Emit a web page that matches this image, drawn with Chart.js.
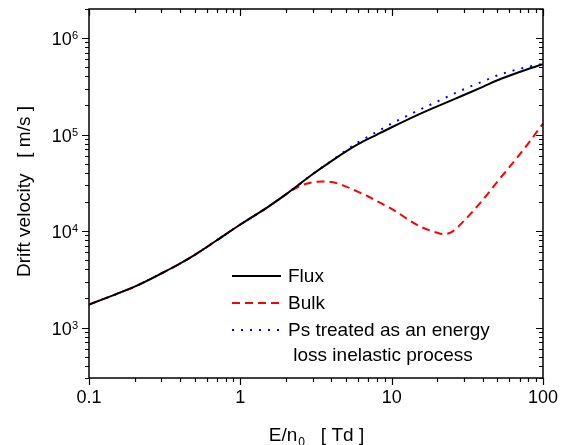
<!DOCTYPE html>
<html>
<head>
<meta charset="utf-8">
<script src="https://cdn.jsdelivr.net/npm/chart.js@4/dist/chart.umd.min.js"></script>
<style>
  html, body { margin: 0; padding: 0; background: #fff; }
  #wrap { width: 569px; height: 445px; }
</style>
</head>
<body>
<div id="wrap"><canvas id="drift"></canvas></div>
<script>
// E/n0 [Td]
var fieldFlux = [0.1, 0.15, 0.2, 0.3, 0.4, 0.5, 0.7, 1, 1.5, 2, 2.5, 3, 4, 5, 6, 8, 10, 15, 20, 30, 40, 50, 70, 100];
var flux = [1730, 2210, 2650, 3630, 4610, 5670, 8030, 11700, 17500, 24000, 31200, 38800, 53000, 67000, 79600, 100000, 119000, 161000, 196000, 257000, 312000, 365000, 445000, 537000];

var fieldBulk = [0.1, 0.15, 0.2, 0.3, 0.4, 0.5, 0.7, 1, 1.5, 2, 2.5, 3, 3.5, 4, 5, 6, 7, 8, 10, 15, 20, 22, 25, 30, 40, 50, 60, 70, 80, 90, 100];
var bulk = [1730, 2210, 2650, 3630, 4610, 5670, 8030, 11700, 17500, 24000, 29500, 32000, 32700, 32300, 28900, 25500, 22800, 20400, 17000, 11400, 9600, 9300, 9800, 12700, 21000, 32500, 46000, 62000, 81000, 104000, 130000];

var fieldPs = [0.1, 0.15, 0.2, 0.3, 0.4, 0.5, 0.7, 1, 1.5, 2, 2.5, 3, 4, 5, 6, 8, 10, 15, 20, 30, 40, 50, 70, 100];
var ps = [1730, 2210, 2650, 3630, 4610, 5670, 8030, 11700, 17500, 24000, 31200, 38800, 53500, 68500, 83000, 107000, 130000, 178000, 220000, 295000, 355000, 410000, 480000, 540000];

var legendLabels = ['Flux', 'Bulk', 'Ps treated as an energy', ' loss inelastic process'];
var xTickValues = [0.1, 1, 10, 100];
var xTickLabels = ['0.1', '1', '10', '100'];
var yTickExps = [3, 4, 5, 6];

var FONT = '"Liberation Sans", Arial, sans-serif';

function pts(xs, ys) {
    var out = [];
    for (var i = 0; i < xs.length; i++) {
        out.push({ x: xs[i], y: ys[i] });
    }
    return out;
}

// minor tick values between min and max for a log axis
function logMinors(min, max) {
    var out = [];
    var d = Math.pow(10, Math.floor(Math.log10(min)));
    for (; d < max * 1.0001; d *= 10) {
        for (var k = 1; k < 10; k++) {
            var v = d * k;
            if (v >= min * 0.9999 && v <= max * 1.0001) out.push({ v: v, major: k === 1 });
        }
    }
    return out;
}

var framePlugin = {
    id: 'frame',
    afterDraw: function(chart) {
        var ctx = chart.ctx;
        var a = chart.chartArea;
        var xs = chart.scales.x, ys = chart.scales.y;
        ctx.save();
        ctx.strokeStyle = '#000';
        ctx.fillStyle = '#000';
        ctx.lineWidth = 1.5;
        ctx.strokeRect(a.left, a.top, a.right - a.left, a.bottom - a.top);

        ctx.lineWidth = 1.2;
        ctx.beginPath();
        logMinors(xs.min, xs.max).forEach(function(t) {
            var px = Math.round(xs.getPixelForValue(t.v)) + 0.5;
            var len = t.major ? 7 : 4;
            ctx.moveTo(px, a.bottom); ctx.lineTo(px, a.bottom + len);
            ctx.moveTo(px, a.top); ctx.lineTo(px, a.top + len);
        });
        logMinors(ys.min, ys.max).forEach(function(t) {
            var py = Math.round(ys.getPixelForValue(t.v)) + 0.5;
            var len = t.major ? 7 : 4;
            ctx.moveTo(a.left, py); ctx.lineTo(a.left - len, py);
            ctx.moveTo(a.right, py); ctx.lineTo(a.right - len, py);
        });
        ctx.stroke();

        // x tick labels
        ctx.font = '18px ' + FONT;
        ctx.textAlign = 'center';
        ctx.textBaseline = 'alphabetic';
        xTickValues.forEach(function(v, i) {
            ctx.fillText(xTickLabels[i], xs.getPixelForValue(v), a.bottom + 25);
        });

        // y tick labels 10^n
        yTickExps.forEach(function(e) {
            var py = ys.getPixelForValue(Math.pow(10, e));
            ctx.font = '11px ' + FONT;
            var ew = ctx.measureText(String(e)).width;
            ctx.textAlign = 'right';
            ctx.fillText(String(e), a.left - 11, py + 1);
            ctx.font = '18px ' + FONT;
            ctx.fillText('10', a.left - 11 - ew, py + 7);
        });

        // axis titles
        ctx.save();
        ctx.translate(25, (a.top + a.bottom) / 2 - 2);
        ctx.rotate(-Math.PI / 2);
        ctx.font = '19px ' + FONT;
        ctx.textAlign = 'center';
        ctx.textBaseline = 'middle';
        ctx.fillText('Drift velocity   [ m/s ]', 0, 0);
        ctx.restore();

        ctx.textAlign = 'left';
        ctx.textBaseline = 'alphabetic';
        ctx.font = '19px ' + FONT;
        var p1 = 'E/n', p3 = '   [ Td ]';
        var w1 = ctx.measureText(p1).width, w3 = ctx.measureText(p3).width;
        ctx.font = '12px ' + FONT;
        var w2 = ctx.measureText('0').width;
        var x0 = (a.left + a.right) / 2 - (w1 + w2 + w3) / 2;
        ctx.font = '19px ' + FONT;
        ctx.fillText(p1, x0, 441);
        ctx.font = '12px ' + FONT;
        ctx.fillText('0', x0 + w1 + 1, 446);
        ctx.font = '19px ' + FONT;
        ctx.fillText(p3, x0 + w1 + w2 + 1, 441);

        // legend
        var rows = [276, 303, 330];
        chart.data.datasets.forEach(function(ds, i) {
            ctx.beginPath();
            ctx.strokeStyle = ds.borderColor;
            ctx.lineWidth = ds.borderWidth;
            ctx.setLineDash(ds.borderDash || []);
            ctx.moveTo(232, rows[i]); ctx.lineTo(281, rows[i]);
            ctx.stroke();
        });
        ctx.setLineDash([]);
        ctx.font = '19px ' + FONT;
        ctx.textBaseline = 'middle';
        ctx.fillStyle = '#000';
        ctx.fillText(legendLabels[0], 288, 277);
        ctx.fillText(legendLabels[1], 288, 304);
        ctx.fillText(legendLabels[2], 288, 331);
        ctx.fillText(legendLabels[3], 288, 356);
        ctx.restore();
    }
};

var chart = new Chart(document.getElementById('drift'), {
    type: 'line',
    data: {
        datasets: [
            {
                label: 'Flux',
                data: pts(fieldFlux, flux),
                borderColor: '#000000',
                borderWidth: 2,
                pointRadius: 0,
                cubicInterpolationMode: 'monotone'
            },
            {
                label: 'Bulk',
                data: pts(fieldBulk, bulk),
                borderColor: '#ff0000',
                borderWidth: 2,
                borderDash: [8, 5],
                pointRadius: 0,
                cubicInterpolationMode: 'monotone'
            },
            {
                label: 'Ps treated as an energy loss inelastic process',
                data: pts(fieldPs, ps),
                borderColor: '#0000ff',
                borderWidth: 2,
                borderDash: [2, 7],
                pointRadius: 0,
                cubicInterpolationMode: 'monotone'
            }
        ]
    },
    options: {
        responsive: true,
        maintainAspectRatio: false,
        animation: false,
        layout: { padding: { left: 89, right: 26, top: 9, bottom: 67 } },
        plugins: { legend: { display: false }, tooltip: { enabled: false } },
        scales: {
            x: { type: 'logarithmic', min: 0.1, max: 100, display: false },
            y: { type: 'logarithmic', min: 300, max: 2000000, display: false }
        }
    },
    plugins: [framePlugin]
});
</script>
</body>
</html>
